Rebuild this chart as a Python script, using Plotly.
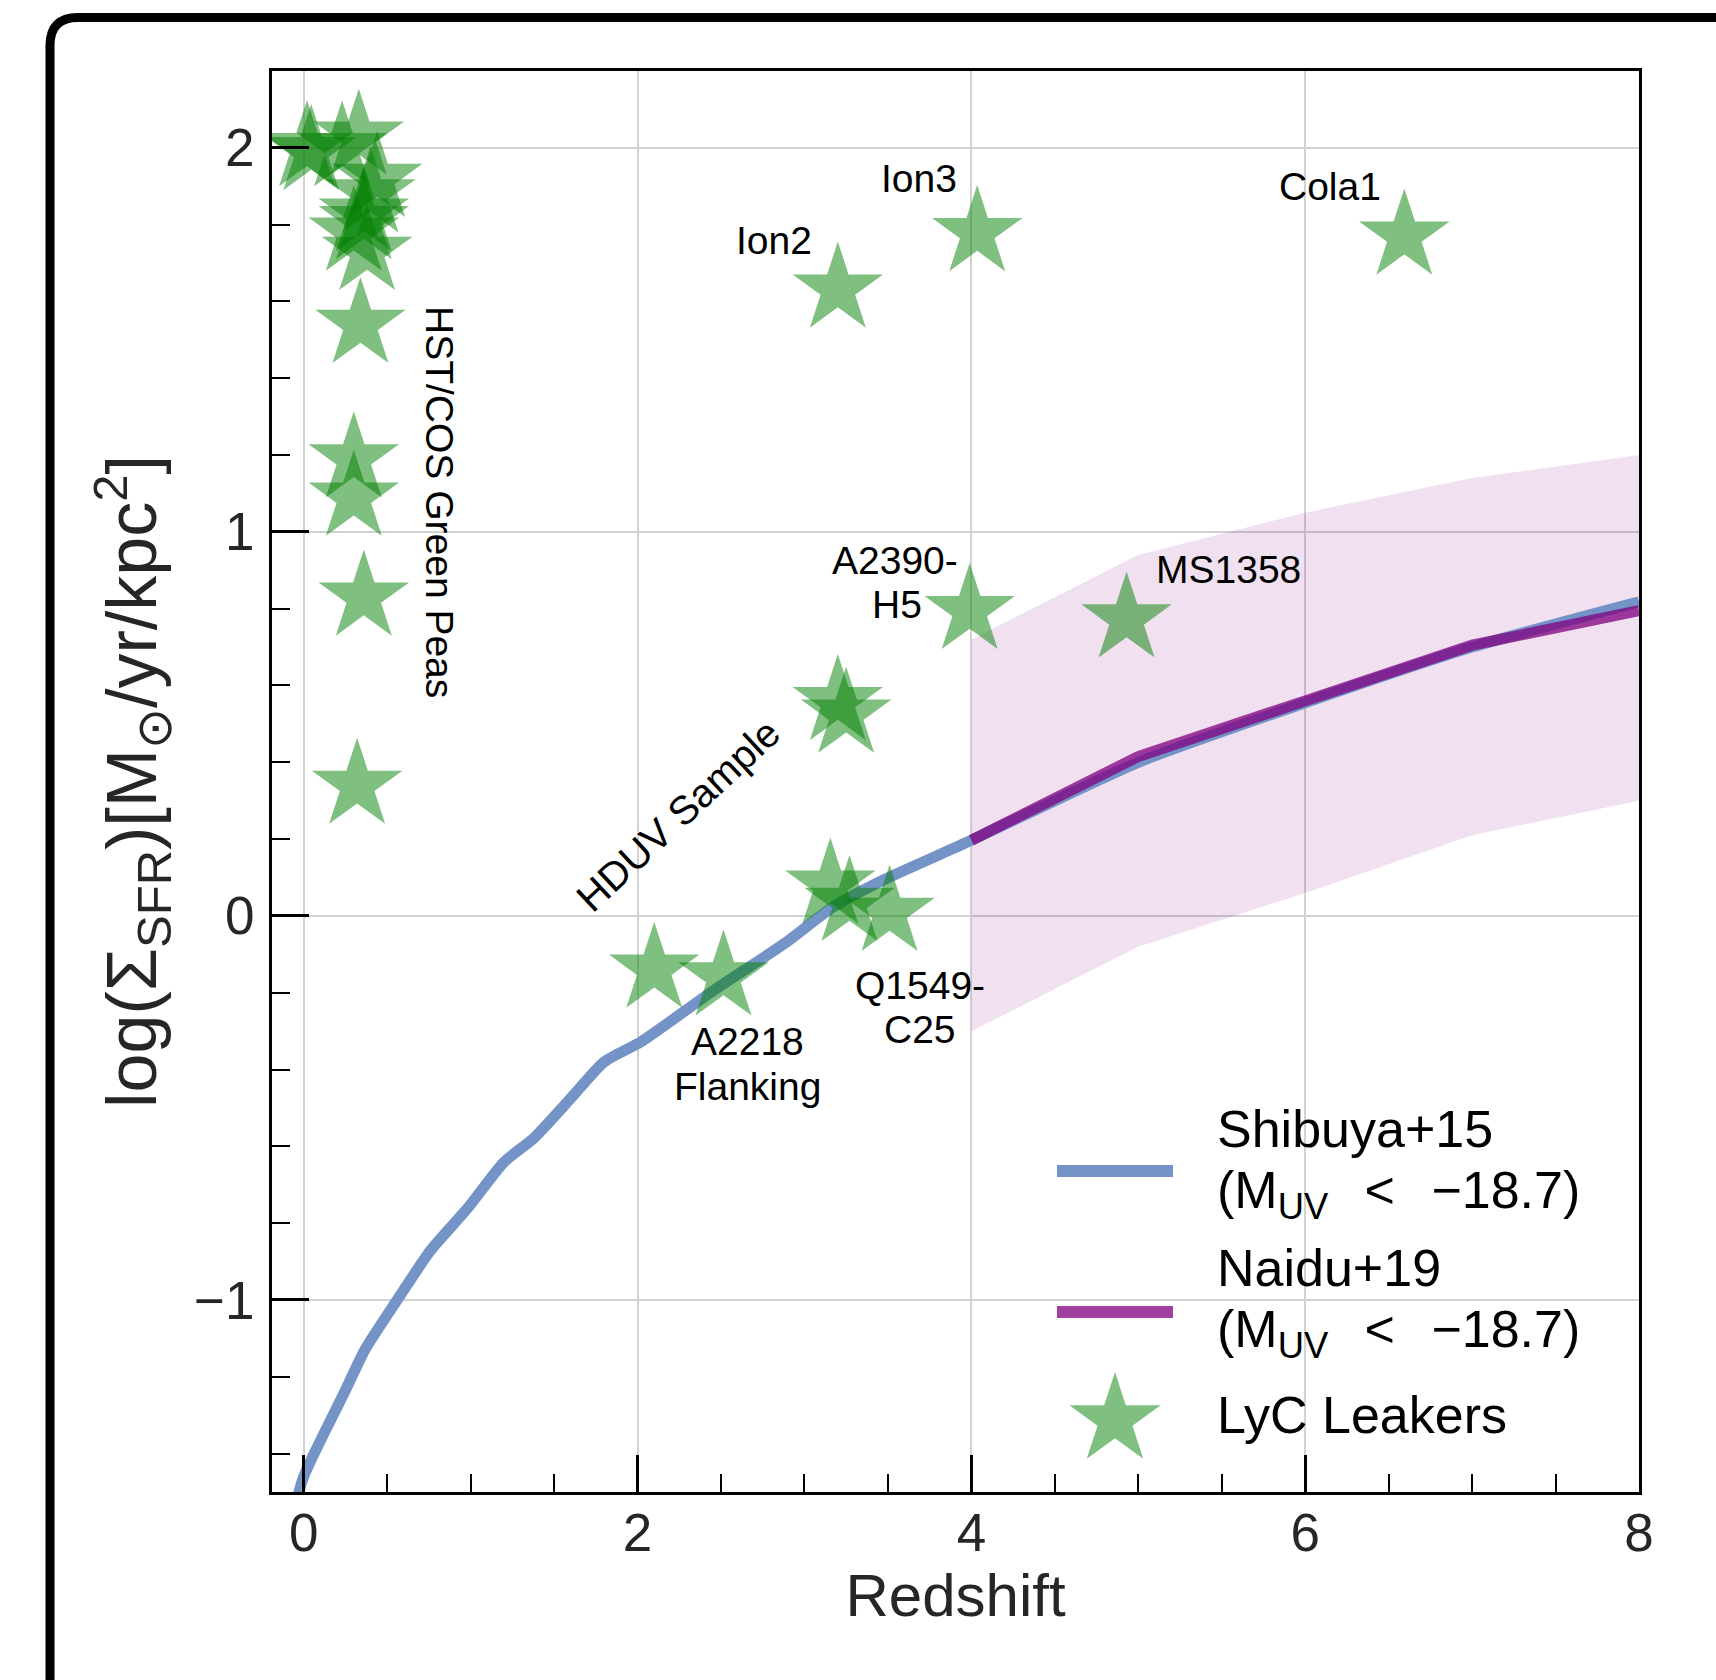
import plotly.graph_objects as go
import numpy as np

# ---------------- data ----------------
shibuya_z = [-0.1, 0.0, 0.24, 0.37, 0.56, 0.76, 0.98, 1.2, 1.38, 1.6, 1.8, 2.02, 2.46, 2.88, 3.17, 3.47, 4.0, 5.0, 6.0, 7.0, 8.0]
shibuya_y = [-1.62, -1.46, -1.244, -1.127, -1.0, -0.871, -0.762, -0.641, -0.578, -0.475, -0.38, -0.328, -0.193, -0.072, 0.023, 0.093, 0.197, 0.40, 0.555, 0.70, 0.818]

naidu_z = [4, 5, 6, 7, 8]
naidu_y = [0.197, 0.415, 0.56, 0.705, 0.795]
naidu_lo = [-0.30, -0.08, 0.06, 0.21, 0.30]
naidu_hi = [0.72, 0.94, 1.05, 1.14, 1.20]

leaker_z = [0.02, 0.045, 0.23, 0.33, 0.44, 0.40, 0.36, 0.36, 0.30, 0.38, 0.34, 0.30, 0.30, 0.36, 0.32,
            2.10, 2.515, 3.155, 3.27, 3.51, 3.20, 3.25, 3.20, 4.035, 6.594, 3.99, 4.93]
leaker_y = [2.00, 1.99, 2.00, 2.03, 1.92, 1.88, 1.83, 1.81, 1.78, 1.73, 1.54, 1.19, 1.09, 0.83, 0.34,
            -0.139, -0.159, 0.080, 0.035, 0.009, 0.558, 0.525, 1.632, 1.779, 1.77, 0.795, 0.773]

x_ticks = [0, 2, 4, 6, 8]
y_ticks = [-1, 0, 1, 2]

# ---------------- layout geometry ----------------
W, H = 1716, 1680
ML, MR, MT, MB = 272, 77, 71, 188


def px(x):
    return (x - ML) / (W - ML - MR)


def py(y):
    return (H - MB - y) / (H - MT - MB)


FONT = "Liberation Sans, Arial, sans-serif"
TXT = "#262626"
BLUE = "#7494c8"
PURPLE = "rgba(128,0,128,0.75)"

fig = go.Figure()

# Naidu+19 band
fig.add_trace(go.Scatter(x=naidu_z, y=naidu_lo, mode="lines", line=dict(width=0),
                         showlegend=False, hoverinfo="skip"))
fig.add_trace(go.Scatter(x=naidu_z, y=naidu_hi, mode="lines", line=dict(width=0),
                         fill="tonexty", fillcolor="rgba(128,0,128,0.12)",
                         showlegend=False, hoverinfo="skip"))
# Shibuya+15
fig.add_trace(go.Scatter(x=shibuya_z, y=shibuya_y, mode="lines",
                         line=dict(color=BLUE, width=11, shape="spline", smoothing=0.6),
                         showlegend=False))
# Naidu+19
fig.add_trace(go.Scatter(x=naidu_z, y=naidu_y, mode="lines",
                         line=dict(color=PURPLE, width=11), showlegend=False))
# LyC leakers
fig.add_trace(go.Scatter(x=leaker_z, y=leaker_y, mode="markers",
                         marker=dict(symbol="star", size=68, color="green", opacity=0.5,
                                     line=dict(width=0)),
                         showlegend=False))

axis_common = dict(
    showline=True, linecolor="black", linewidth=2.8, mirror=True,
    ticks="inside", tickcolor="black", tickwidth=2.5, ticklen=37,
    showgrid=True, gridcolor="#d2d2d2", gridwidth=2,
    zeroline=False,
    tickfont=dict(family=FONT, size=53, color=TXT),
)

fig.update_xaxes(
    range=[-0.19, 8.0], tickmode="array", tickvals=x_ticks,
    minor=dict(dtick=0.5, tick0=0, ticks="inside", ticklen=18, tickwidth=2, tickcolor="black", showgrid=False),
    title=dict(text="Redshift", font=dict(family=FONT, size=60, color=TXT), standoff=14),
    ticklabelstandoff=-8,
    **axis_common,
)
fig.update_yaxes(
    range=[-1.5, 2.2], tickmode="array", tickvals=y_ticks,
    minor=dict(dtick=0.2, tick0=0, ticks="inside", ticklen=18, tickwidth=2, tickcolor="black", showgrid=False),
    title=dict(text="log(Σ<sub>SFR</sub>)[M<sub>⊙</sub>/yr/kpc<sup>2</sup>]",
               font=dict(family=FONT, size=70, color=TXT), standoff=15),
    ticklabelstandoff=4,
    **axis_common,
)

annotations = []


def label(text, x, y, size=39, angle=0, xanchor="center"):
    annotations.append(dict(text=text, x=px(x), y=py(y), xref="paper", yref="paper",
                            xanchor=xanchor, yanchor="middle", showarrow=False, textangle=angle,
                            font=dict(family=FONT, size=size, color="black")))


label("Ion3", 919, 178)
label("Ion2", 774, 241)
label("Cola1", 1330, 187)
label("A2390-", 895, 560)
label("H5", 897, 604)
label("MS1358", 1228, 569)
label("Q1549-", 920, 985)
label("C25", 920, 1029)
label("A2218", 747, 1041)
label("Flanking", 747, 1086)
label("HDUV Sample", 678, 815, size=40, angle=-43)
label("HST/COS Green Peas", 440, 502, angle=90)

# manual legend
LEG_X = 1215
MUV = "(M<sub>UV</sub>\u2002\u2009&lt;\u2002\u2009−18.7)"
label("Shibuya+15", LEG_X, 1129, size=52, xanchor="left")
label(MUV, LEG_X, 1194, size=52, xanchor="left")
label("Naidu+19", LEG_X, 1268, size=52, xanchor="left")
label(MUV, LEG_X, 1333, size=52, xanchor="left")
label("LyC Leakers", LEG_X, 1415, size=52, xanchor="left")

shapes = []
shapes.append(dict(type="line", xref="paper", yref="paper", x0=px(1057), x1=px(1173), y0=py(1171), y1=py(1171),
                   line=dict(color=BLUE, width=12)))
shapes.append(dict(type="line", xref="paper", yref="paper", x0=px(1057), x1=px(1173), y0=py(1312), y1=py(1312),
                   line=dict(color=PURPLE, width=12)))

# legend star
cx, cy, R = 1115, 1420, 48
ang = np.arange(10) * np.pi / 5
rad = np.where(np.arange(10) % 2 == 0, R, R * 0.382)
sx = cx + rad * np.sin(ang)
sy = cy - rad * np.cos(ang)
star_path = "M " + " L ".join(f"{px(a):.5f},{py(b):.5f}" for a, b in zip(sx, sy)) + " Z"
shapes.append(dict(type="path", xref="paper", yref="paper", path=star_path,
                   fillcolor="rgba(0,128,0,0.5)", line=dict(width=0)))

# outer rounded frame
fx, fy, fr = 50, 17.5, 28
frame = (f"M {px(fx)},{py(1800)} L {px(fx)},{py(fy + fr)} "
         f"Q {px(fx)},{py(fy)} {px(fx + fr)},{py(fy)} L {px(1800)},{py(fy)}")
shapes.append(dict(type="path", xref="paper", yref="paper", path=frame,
                   line=dict(color="black", width=9)))

fig.update_layout(
    width=W, height=H,
    margin=dict(l=ML, r=MR, t=MT, b=MB, autoexpand=False),
    paper_bgcolor="white", plot_bgcolor="white",
    showlegend=False,
    annotations=annotations,
    shapes=shapes,
    font=dict(family=FONT, color=TXT),
    hovermode=False,
)

fig.write_html("out.html", config={"displayModeBar": False})
